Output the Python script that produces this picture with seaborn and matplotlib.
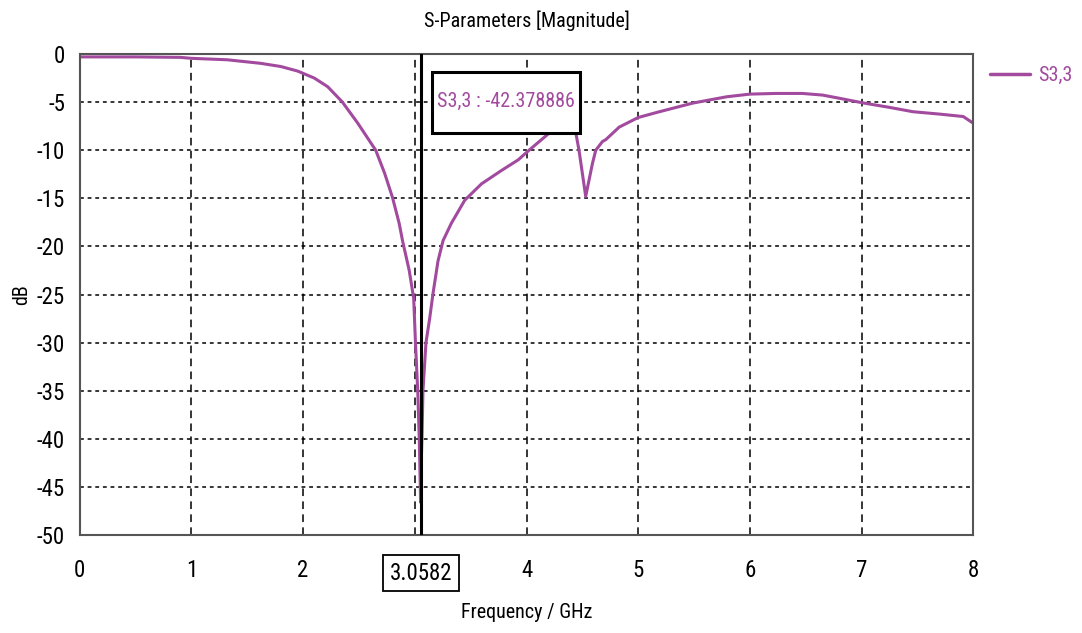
import matplotlib
matplotlib.use("Agg")
import matplotlib.pyplot as plt
import matplotlib.transforms as mtransforms
from matplotlib import font_manager
from matplotlib.patches import Rectangle
import numpy as np
import pandas as pd
import seaborn as sns

# ---- data ----
freq_ghz = [0.0, 0.5, 0.9, 1.0, 1.32, 1.62, 1.80, 1.95, 2.10, 2.22, 2.35, 2.49,
            2.65, 2.73, 2.80, 2.86, 2.89, 2.95, 2.99, 3.006, 3.027, 3.04, 3.052,
            3.058, 3.065, 3.073, 3.10, 3.133, 3.163, 3.208, 3.253, 3.327, 3.447,
            3.597, 3.777, 3.926, 4.016, 4.165, 4.195, 4.30, 4.40, 4.44, 4.47,
            4.53, 4.59, 4.62, 4.68, 4.71, 4.83, 5.0, 5.19, 5.49, 5.79, 6.0,
            6.23, 6.47, 6.65, 6.8, 7.02, 7.25, 7.46, 7.7, 7.91, 8.0]
s33_db = [-0.3, -0.3, -0.35, -0.45, -0.6, -0.97, -1.3, -1.77, -2.5, -3.4, -4.97,
          -7.2, -10.0, -12.4, -14.9, -17.6, -19.4, -22.5, -25.4, -30.0, -35.2,
          -40.0, -46.6, -42.38, -39.5, -35.0, -30.0, -27.5, -24.9, -21.5, -19.4,
          -17.6, -15.2, -13.5, -12.1, -11.0, -10.07, -8.6, -8.3, -8.0, -7.9,
          -8.1, -10.0, -14.8, -11.4, -10.0, -9.1, -8.9, -7.6, -6.6, -6.0, -5.1,
          -4.45, -4.17, -4.1, -4.1, -4.27, -4.6, -5.1, -5.55, -6.0, -6.25, -6.5,
          -7.2]
series_name = "S3,3"
marker_freq = 3.0582
marker_value = -42.378886
x_ticks = [0, 1, 2, 3, 4, 5, 6, 7, 8]
x_tick_labels = ["0", "1", "2", "", "4", "5", "6", "7", "8"]
y_ticks = [0, -5, -10, -15, -20, -25, -30, -35, -40, -45, -50]

df = pd.DataFrame({"Frequency": freq_ghz, "S": s33_db, "series": series_name})

sns.set_style("white")
available = {f.name for f in font_manager.fontManager.ttflist}
fam = [f for f in ["Liberation Sans Narrow", "DejaVu Sans Condensed",
                   "Roboto Condensed", "Liberation Sans"] if f in available]
plt.rcParams["font.family"] = fam + ["DejaVu Sans"]
plt.rcParams["axes.unicode_minus"] = False
plt.rcParams["text.color"] = "black"

purple = "#a24a9e"
fs_tick = 16.5
fs_lab = 14.5

W, H = 1082, 633
fig = plt.figure(figsize=(W / 100, H / 100), dpi=100)
ax = fig.add_axes([79.7 / W, 1 - 535 / H, (973.3 - 79.7) / W, (535 - 54) / H])

sns.lineplot(data=df, x="Frequency", y="S", hue="series", palette=[purple],
             linewidth=2.2, ax=ax, sort=False, estimator=None)

ax.set_xlim(0, 8)
ax.set_ylim(-50, 0)
ax.set_xticks(x_ticks)
ax.set_xticklabels(x_tick_labels)
ax.set_yticks(y_ticks)
ax.set_yticklabels([str(v) for v in y_ticks])
ax.tick_params(axis="both", direction="inout", length=7, width=1, colors="black",
               labelsize=fs_tick)
ax.tick_params(axis="x", pad=14)
ax.tick_params(axis="y", pad=7)
ax.set_xlabel("")
ax.set_ylabel("")

# grid: vertical dashed, horizontal dotted
for xv in x_ticks[1:-1]:
    ax.axvline(xv, color="black", lw=1.1, ls=(0, (5, 3.5)), zorder=0.5)
for yv in y_ticks[1:-1]:
    ax.axhline(yv, color="black", lw=1.1, ls=(0, (2.5, 2.5)), zorder=0.5)

for sp in ax.spines.values():
    sp.set_color("#555555")
    sp.set_linewidth(1.5)

# marker line
ax.axvline(marker_freq, color="black", lw=2.2, zorder=3)

# marker annotation box (pixel placement converted to figure fraction)
bx0, bx1, by0, by1 = 432, 580, 72, 133
ax.add_patch(Rectangle((bx0 / W, 1 - by1 / H), (bx1 - bx0) / W, (by1 - by0) / H,
                       transform=fig.transFigure, fc="white", ec="black", lw=2.2,
                       zorder=4))
fig.text((bx0 + bx1) / 2 / W, 1 - 101 / H, f"{series_name} : {marker_value}",
         color=purple, fontsize=fs_lab, ha="center", va="center", zorder=5)

# marker x label box below axis
trans = mtransforms.blended_transform_factory(ax.transData, fig.transFigure)
ax.text(marker_freq, 1 - 573 / H, f"{marker_freq}", transform=trans,
        fontsize=fs_tick, ha="center", va="center", color="black", clip_on=False,
        bbox=dict(boxstyle="square,pad=0.3", fc="white", ec="black", lw=1.3))

# legend
leg = ax.legend(loc="upper left", bbox_to_anchor=(990 / W, 1 - 66 / H),
                bbox_transform=fig.transFigure, frameon=False, fontsize=fs_lab,
                handlelength=2.0, handletextpad=0.4, labelcolor=purple,
                borderaxespad=0, borderpad=0)
for h in leg.get_lines():
    h.set_linewidth(2.5)

fig.text(527 / W, 1 - 21 / H, "S-Parameters [Magnitude]", fontsize=fs_lab,
         ha="center", va="center")
fig.text(527 / W, 1 - 612 / H, "Frequency / GHz", fontsize=fs_lab,
         ha="center", va="center")
fig.text(22 / W, 1 - 295 / H, "dB", fontsize=fs_lab, ha="center", va="center",
         rotation=90)

fig.savefig("out.png", dpi=100, facecolor="white")
